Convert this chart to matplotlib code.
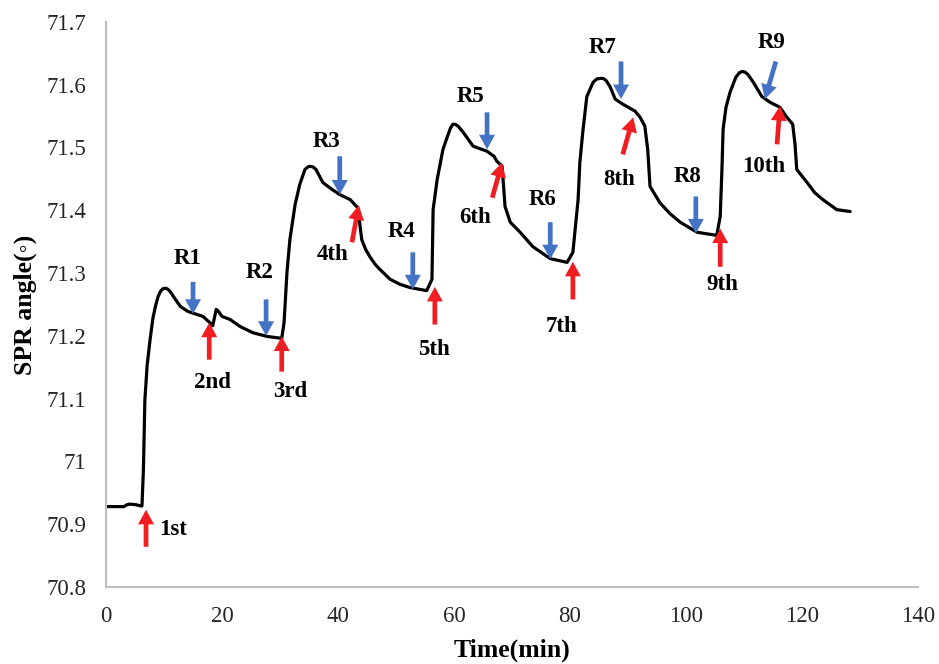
import numpy as np
import matplotlib
matplotlib.use('Agg')
import matplotlib.pyplot as plt

# SPR curve
time = [0, 3.1, 3.6, 4.1, 5.2, 6.0, 6.2, 6.45, 6.7, 7.1, 7.6, 8.1, 8.6, 9.0, 9.4, 9.8, 10.3,
        10.7, 11.1, 11.6, 12.8, 14.1, 15.7, 16.7, 17.9, 18.4, 19.0, 19.3, 20.0, 21.4, 23.1,
        25.3, 27.8, 30.3, 30.7, 31.2, 31.7, 32.6, 33.4, 34.3, 34.8, 35.2, 35.7, 36.2, 37.4,
        39.0, 40.3, 42.1, 43.4, 44.1, 44.8, 45.5, 46.4, 47.2, 49.0, 50.7, 52.4, 54.1, 55.3,
        56.2, 56.4, 57.1, 58.1, 59.0, 59.4, 59.8, 60.2, 60.7, 61.6, 63.3, 65.7, 66.9, 67.4,
        68.3, 68.8, 69.7, 71.4, 73.6, 76.6, 79.5, 80.5, 81.4, 81.7, 82.2, 82.9, 84.0, 84.6,
        85.2, 85.7, 86.2, 86.9, 87.8, 89.1, 91.2, 92.1, 92.9, 93.4, 93.8, 95.5, 97.2, 99.0,
        101.9, 105.3, 105.9, 106.2, 106.4, 106.9, 107.6, 108.6, 109.2, 109.7, 110.2, 110.7,
        111.6, 113.1, 114.5, 116.2, 117.4, 118.4, 118.8, 119.1, 120.9, 122.2, 123.6, 126.0,
        128.3]
angle = [70.928, 70.928, 70.931, 70.932, 70.931, 70.929, 70.929, 70.987, 71.098, 71.154,
         71.194, 71.229, 71.250, 71.263, 71.271, 71.275, 71.276, 71.274, 71.270, 71.263,
         71.247, 71.239, 71.234, 71.231, 71.221, 71.216, 71.242, 71.240, 71.231, 71.226,
         71.215, 71.205, 71.199, 71.196, 71.221, 71.301, 71.353, 71.409, 71.441, 71.465,
         71.469, 71.470, 71.469, 71.465, 71.444, 71.433, 71.425, 71.417, 71.404, 71.353,
         71.337, 71.326, 71.314, 71.306, 71.290, 71.282, 71.277, 71.274, 71.272, 71.290,
         71.401, 71.449, 71.497, 71.521, 71.531, 71.537, 71.537, 71.534, 71.524, 71.502,
         71.494, 71.486, 71.478, 71.470, 71.406, 71.381, 71.365, 71.342, 71.323, 71.317,
         71.333, 71.417, 71.476, 71.524, 71.581, 71.604, 71.609, 71.610, 71.610, 71.607,
         71.597, 71.577, 71.569, 71.558, 71.548, 71.534, 71.497, 71.438, 71.412, 71.395,
         71.381, 71.365, 71.360, 71.390, 71.465, 71.529, 71.564, 71.588, 71.612, 71.619,
         71.621, 71.620, 71.616, 71.604, 71.581, 71.572, 71.564, 71.548, 71.537, 71.505,
         71.465, 71.444, 71.428, 71.417, 71.401, 71.398]

# blue arrows (R1..R9): tail -> tip, and label position
r_labels = ['R1', 'R2', 'R3', 'R4', 'R5', 'R6', 'R7', 'R8', 'R9']
r_tail_x = [15.0, 27.6, 40.3, 52.9, 65.7, 76.6, 88.8, 101.7, 115.5]
r_tail_y = [71.286, 71.258, 71.486, 71.333, 71.556, 71.381, 71.637, 71.422, 71.637]
r_tip_x = [15.0, 27.6, 40.3, 52.9, 65.7, 76.6, 88.8, 101.7, 113.6]
r_tip_y = [71.235, 71.200, 71.425, 71.274, 71.497, 71.322, 71.577, 71.363, 71.577]
r_text_x = [14.1, 26.4, 38.1, 51.0, 62.8, 75.3, 85.7, 100.3, 114.8]
r_text_y = [71.323, 71.301, 71.510, 71.366, 71.581, 71.417, 71.660, 71.454, 71.668]

# red arrows (injections 1st..10th)
n_labels = ['1st', '2nd', '3rd', '4th', '5th', '6th', '7th', '8th', '9th', '10th']
n_tail_x = [6.9, 17.8, 30.3, 42.4, 56.7, 66.6, 80.5, 89.1, 105.9, 115.7]
n_tail_y = [70.864, 71.162, 71.143, 71.349, 71.218, 71.420, 71.258, 71.489, 71.310, 71.505]
n_tip_x = [6.9, 17.8, 30.3, 43.6, 56.7, 68.3, 80.5, 90.9, 105.9, 116.2]
n_tip_y = [70.923, 71.221, 71.199, 71.408, 71.278, 71.476, 71.318, 71.548, 71.371, 71.566]
n_text_x = [11.6, 18.4, 31.7, 39.0, 56.6, 63.6, 78.6, 88.4, 106.2, 113.4]
n_text_y = [70.891, 71.125, 71.111, 71.330, 71.178, 71.389, 71.215, 71.449, 71.282, 71.470]

y_ticks = [70.8, 70.9, 71.0, 71.1, 71.2, 71.3, 71.4, 71.5, 71.6, 71.7]
x_ticks = [0, 20, 40, 60, 80, 100, 120, 140]

plt.rcParams['font.family'] = ['Liberation Serif', 'DejaVu Sans']

fig = plt.figure(figsize=(9.39, 6.64), dpi=100)
ax = fig.add_axes([0.1129, 0.116, 0.8647, 0.851])

ax.plot(time, angle, color='black', lw=2.3, solid_joinstyle='round', solid_capstyle='round')

arrow_style = dict(edgecolor='none', width=3.4, headwidth=11.5, headlength=10.5, shrink=0)

for lab, tx, ty, hx, hy, lx, ly in zip(r_labels, r_tail_x, r_tail_y, r_tip_x, r_tip_y, r_text_x, r_text_y):
    ax.annotate('', xy=(hx, hy), xytext=(tx, ty), arrowprops=dict(facecolor='#4472C4', **arrow_style))
    ax.text(lx, ly, lab, ha='center', va='center', fontsize=16.5, fontweight='bold')

for lab, tx, ty, hx, hy, lx, ly in zip(n_labels, n_tail_x, n_tail_y, n_tip_x, n_tip_y, n_text_x, n_text_y):
    ax.annotate('', xy=(hx, hy), xytext=(tx, ty), arrowprops=dict(facecolor='#F01E23', **arrow_style))
    ax.text(lx, ly, lab, ha='center', va='center', fontsize=16.5, fontweight='bold')

ax.set_xlim(0, 140)
ax.set_ylim(70.8, 71.7)
ax.set_xticks(x_ticks)
ax.set_yticks(y_ticks)
ax.set_yticklabels([f'{v:g}' for v in y_ticks])
ax.tick_params(length=0, labelsize=16.5, pad=14, labelcolor='#262626')

for s in ['top', 'right']:
    ax.spines[s].set_visible(False)
for s in ['left', 'bottom']:
    ax.spines[s].set_color('#BFBFBF')
    ax.spines[s].set_linewidth(1.5)

ax.set_xlabel('Time(min)', fontsize=18.5, fontweight='bold')
ax.set_ylabel('SPR angle(◦)', fontsize=18.5, fontweight='bold')
ax.xaxis.set_label_coords(0.5, -0.092)
ax.yaxis.set_label_coords(-0.085, 0.5)

fig.savefig('out.png', dpi=100)
